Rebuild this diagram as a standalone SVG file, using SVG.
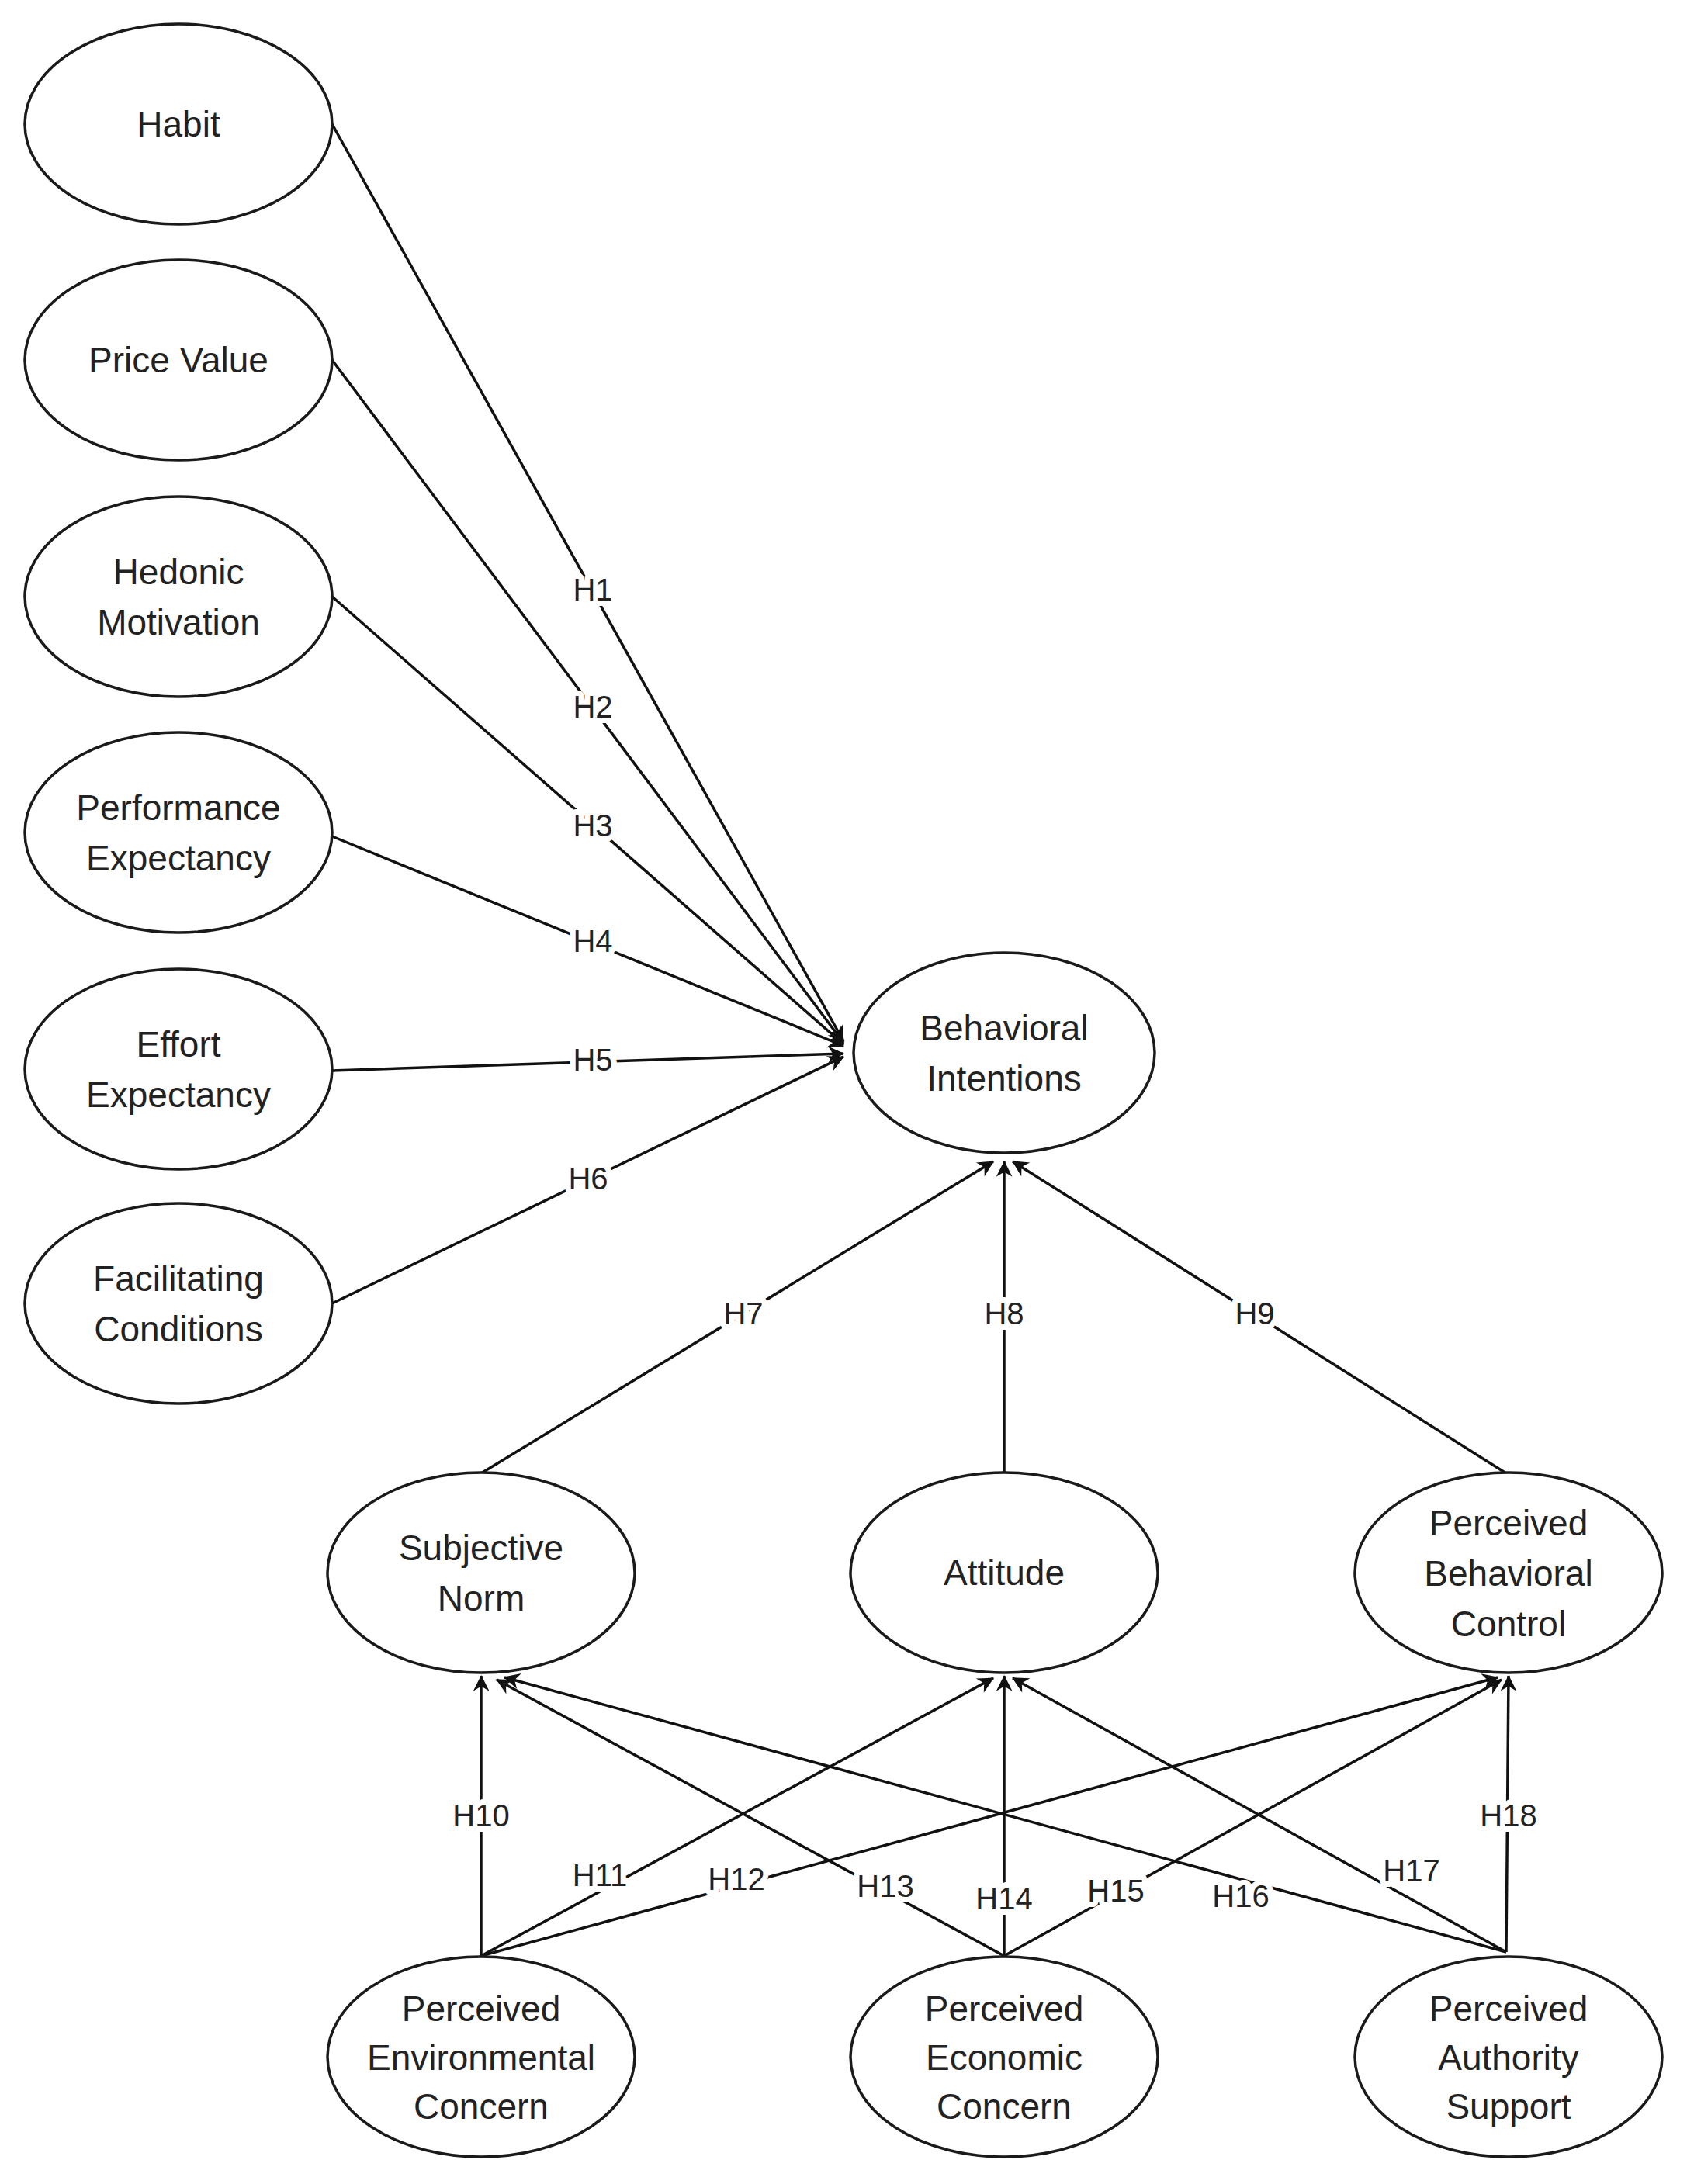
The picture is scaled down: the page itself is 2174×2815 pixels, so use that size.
<svg xmlns="http://www.w3.org/2000/svg" width="2174" height="2815" viewBox="0 0 2174 2815">
<style>
.n ellipse{fill:#fff;stroke:#1a1a1a;stroke-width:3.5}
.n text{font-family:"Liberation Sans",Arial,sans-serif;font-size:46px;fill:#222;text-anchor:middle}
.e line{stroke:#111;stroke-width:3.5;marker-end:url(#a)}
.e text{font-family:"Liberation Sans",Arial,sans-serif;font-size:40px;fill:#222;text-anchor:middle;stroke:#fff;stroke-width:14;paint-order:stroke;stroke-linejoin:round}
</style>
<defs><marker id="a" viewBox="0 0 10 10" refX="9" refY="5" markerWidth="8" markerHeight="8" markerUnits="userSpaceOnUse" orient="auto" style="overflow:visible"><path d="M0,0 L10,5 L0,10 L3,5 Z" fill="#111" transform="scale(2.6) translate(-6,-3)"/></marker></defs>
<rect width="2174" height="2815" fill="#fff"/>
<g class="e" id="connectors">
<line x1="428" y1="160" x2="1087" y2="1342"/>
<line x1="428" y1="464" x2="1087" y2="1344"/>
<line x1="428" y1="769" x2="1087" y2="1346"/>
<line x1="428" y1="1078" x2="1087" y2="1348"/>
<line x1="428" y1="1380" x2="1087" y2="1358"/>
<line x1="428" y1="1680" x2="1087" y2="1362"/>
<line x1="620" y1="1899" x2="1280" y2="1497"/>
<line x1="1294" y1="1899" x2="1294" y2="1497"/>
<line x1="1941" y1="1899" x2="1305" y2="1497"/>
<line x1="620" y1="2521" x2="620" y2="2160"/>
<line x1="620" y1="2521" x2="1280" y2="2163"/>
<line x1="620" y1="2521" x2="1930" y2="2162"/>
<line x1="1294" y1="2521" x2="640" y2="2165"/>
<line x1="1294" y1="2521" x2="1294" y2="2160"/>
<line x1="1294" y1="2521" x2="1935" y2="2165"/>
<line x1="1941" y1="2516" x2="650" y2="2162"/>
<line x1="1941" y1="2516" x2="1305" y2="2163"/>
<line x1="1941" y1="2516" x2="1944" y2="2160"/>
<text x="764" y="774">H1</text>
<text x="764" y="925">H2</text>
<text x="764" y="1078">H3</text>
<text x="764" y="1227">H4</text>
<text x="764" y="1380">H5</text>
<text x="758" y="1533">H6</text>
<text x="958" y="1707">H7</text>
<text x="1294" y="1707">H8</text>
<text x="1617" y="1707">H9</text>
<text x="620" y="2354">H10</text>
<text x="773" y="2431">H11</text>
<text x="949" y="2436">H12</text>
<text x="1141" y="2445">H13</text>
<text x="1294" y="2461">H14</text>
<text x="1438" y="2451">H15</text>
<text x="1599" y="2458">H16</text>
<text x="1819" y="2425">H17</text>
<text x="1944" y="2354">H18</text>
</g>
<g class="n" id="habit"><ellipse cx="230" cy="160" rx="198" ry="129"/><text x="230" y="176">Habit</text></g>
<g class="n" id="price"><ellipse cx="230" cy="464" rx="198" ry="129"/><text x="230" y="480">Price Value</text></g>
<g class="n" id="hedonic"><ellipse cx="230" cy="769" rx="198" ry="129"/><text x="230" y="753">Hedonic</text><text x="230" y="818">Motivation</text></g>
<g class="n" id="performance"><ellipse cx="230" cy="1073" rx="198" ry="129"/><text x="230" y="1057">Performance</text><text x="230" y="1122">Expectancy</text></g>
<g class="n" id="effort"><ellipse cx="230" cy="1378" rx="198" ry="129"/><text x="230" y="1362">Effort</text><text x="230" y="1427">Expectancy</text></g>
<g class="n" id="facilitating"><ellipse cx="230" cy="1680" rx="198" ry="129"/><text x="230" y="1664">Facilitating</text><text x="230" y="1729">Conditions</text></g>
<g class="n" id="bi"><ellipse cx="1294" cy="1357" rx="194" ry="129"/><text x="1294" y="1341">Behavioral</text><text x="1294" y="1406">Intentions</text></g>
<g class="n" id="sn"><ellipse cx="620" cy="2027" rx="198" ry="129"/><text x="620" y="2011">Subjective</text><text x="620" y="2076">Norm</text></g>
<g class="n" id="att"><ellipse cx="1294" cy="2027" rx="198" ry="129"/><text x="1294" y="2043">Attitude</text></g>
<g class="n" id="pbc"><ellipse cx="1944" cy="2027" rx="198" ry="129"/><text x="1944" y="1979">Perceived</text><text x="1944" y="2044">Behavioral</text><text x="1944" y="2109">Control</text></g>
<g class="n" id="pec"><ellipse cx="620" cy="2651" rx="198" ry="129"/><text x="620" y="2605">Perceived</text><text x="620" y="2668">Environmental</text><text x="620" y="2731">Concern</text></g>
<g class="n" id="peco"><ellipse cx="1294" cy="2651" rx="198" ry="129"/><text x="1294" y="2605">Perceived</text><text x="1294" y="2668">Economic</text><text x="1294" y="2731">Concern</text></g>
<g class="n" id="pas"><ellipse cx="1944" cy="2651" rx="198" ry="129"/><text x="1944" y="2605">Perceived</text><text x="1944" y="2668">Authority</text><text x="1944" y="2731">Support</text></g>
</svg>
